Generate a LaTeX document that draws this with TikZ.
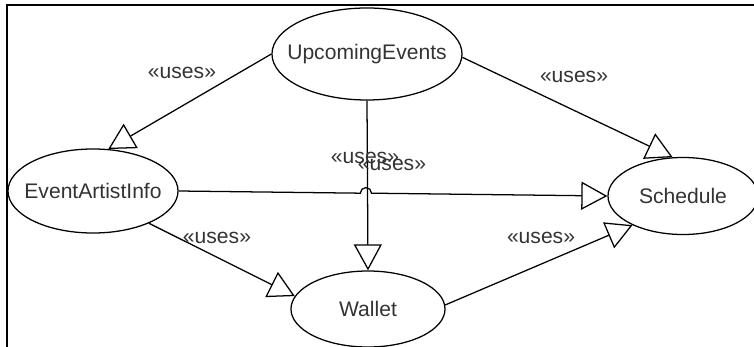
\documentclass[tikz,border=0pt]{standalone}
\usepackage{fontspec}
\setmainfont{Liberation Sans}
\usetikzlibrary{shapes, arrows.meta, positioning, calc}

\begin{document}
\begin{tikzpicture}[x=0.025cm, y=-0.025cm,
            usecase/.style={ellipse, draw=black, line width=0.9pt, inner sep=0pt, font=\fontsize{15}{18}\selectfont, text=black!80},
            uses/.style={-{Triangle[open, length=0.65cm, width=0.7cm]}, line width=0.9pt},
            lbl/.style={font=\fontsize{15}{18}\selectfont, text=black!80, inner sep=0pt}
        ]
            \useasboundingbox (0,0) rectangle (754,347);

            % Frame
            \draw[line width=1.6pt] (7,347) -- (7,5) -- (754,5);

            % Use cases
            \node[usecase, minimum width=4.75cm, minimum height=2.3cm] (upcoming) at (367,54) {\makebox[0pt]{UpcomingEvents}};
            \node[usecase, minimum width=4.25cm, minimum height=2.1cm] (artist) at (93,191) {\makebox[0pt]{EventArtistInfo}};
            \node[usecase, minimum width=3.75cm, minimum height=1.925cm] (schedule) at (683,196) {\makebox[0pt]{Schedule}};
            \node[usecase, minimum width=3.85cm, minimum height=1.9cm] (wallet) at (368,309) {\makebox[0pt]{Wallet}};

            % Connections
            \draw[uses] (upcoming.180) -- (artist.70);
            \draw[uses] (upcoming.358) -- (schedule.105);
            \draw[uses] (upcoming.south) -- (wallet.north);
            \draw[uses] (artist.330) -- (wallet.170);
            \draw[uses] (wallet.3) -- (schedule.210);

            \coordinate (hop) at ($(artist.east)!(upcoming.south)!(schedule.west)$);
            \draw[uses] (artist.east) -- ([xshift=-0.14cm]hop) arc[start angle=180, end angle=0, radius=0.14cm] -- (schedule.west);

            % Labels
            \node[lbl] (usesA) at (182,73) {«uses»};
            \node[lbl] (usesB) at (574,77) {«uses»};
            \node[lbl] (usesC) at (365,158) {«uses»};
            \node[lbl] (usesD) at (392,165) {«uses»};
            \node[lbl] (usesE) at (217,238) {«uses»};
            \node[lbl] (usesF) at (541,238) {«uses»};

        \end{tikzpicture}
\end{document}
